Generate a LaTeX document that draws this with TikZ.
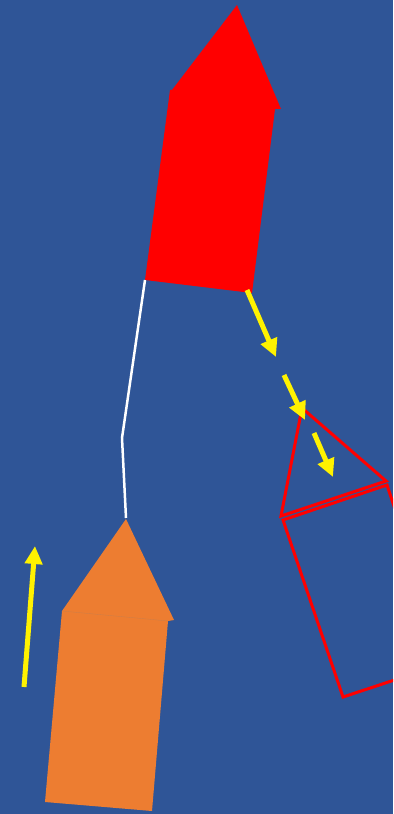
\documentclass[tikz,border=0pt]{standalone}
\usepackage{xcolor}
\usetikzlibrary{arrows.meta}
\definecolor{bgblue}{HTML}{2F5597}
\definecolor{houseorange}{HTML}{ED7D31}

\begin{document}
\begin{tikzpicture}[
    x=0.02cm, y=-0.02cm,
    move/.style={draw=yellow, line width=0.1cm, -{Triangle[length=0.36cm,width=0.34cm]}},
    tether/.style={draw=white, line width=0.05cm},
    ghost/.style={draw=red, line width=0.06cm, line join=miter},
]
\fill[bgblue] (0,0) rectangle (393,814);
\useasboundingbox (0,0) rectangle (393,814);
\clip (0,0) rectangle (393,814);

% red house (start)
\fill[red] (237,5) -- (281,109) -- (275,109) -- (252,293) -- (145,280)
    -- (170,90) -- (172,90) -- cycle;
\coordinate (redbase) at (145,280);

% orange house
\fill[houseorange] (126,519) -- (174,620) -- (168,621) -- (152,811)
    -- (45,802) -- (62,611) -- cycle;
\draw[houseorange!70!gray, line width=0.2pt] (62,611) -- (168,621);
\coordinate (orangetop) at (126,518);

% tether between the houses
\coordinate (kink) at (122,438);
\draw[tether] (redbase) -- (kink) -- (orangetop);

% outlined house (target)
\draw[ghost] (302,408) -- (386,481) -- (281,516) -- cycle;
\draw[ghost] (283,520) -- (387,485) -- (446,663) -- (343,697) -- cycle;

% yellow arrows
\coordinate (a1) at (247,290); \coordinate (b1) at (276,357);
\coordinate (a2) at (284,375); \coordinate (b2) at (305,420);
\coordinate (a3) at (314,433); \coordinate (b3) at (333,477);
\coordinate (a4) at (24,687);  \coordinate (b4) at (35,546);
\foreach \i in {1,...,4}
    \draw[move] (a\i) -- (b\i);
\end{tikzpicture}
\end{document}
